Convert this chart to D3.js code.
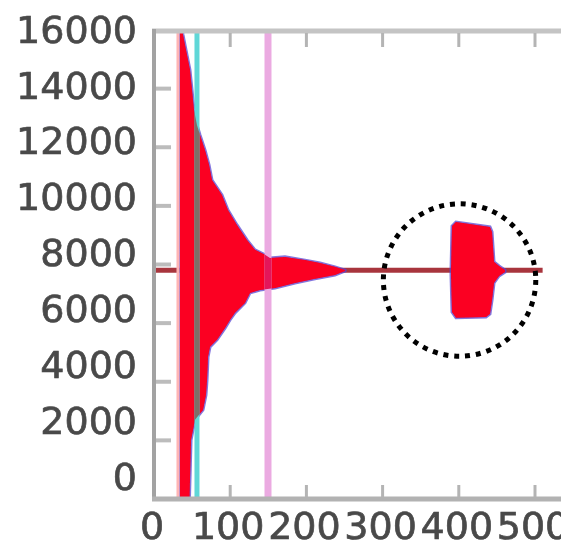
<!DOCTYPE html>
<html>
<head>
<meta charset="utf-8">
<script src="https://cdn.jsdelivr.net/npm/d3@7"></script>
<style>
  body { margin: 0; background: #fff; }
  .tick-label { font-family: "DejaVu Sans", sans-serif; font-size: 38px; fill: #4a4a4a; stroke: #4a4a4a; stroke-width: 0.7px; }
</style>
</head>
<body>
<div class="canvas"></div>
<script>
// tick values
const xTicks = [0, 100, 200, 300, 400, 500];
const yTicks = [0, 2000, 4000, 6000, 8000, 10000, 12000, 14000, 16000];

// decaying waveform envelope (upper / lower edge)
const upperX = [34.1, 38.1, 42.0, 47.2, 49.9, 52.5, 56.4, 60.4, 66.9, 72.2, 76.1, 89.2, 97.1, 108.9, 122.0, 132.5, 145.7, 152.2, 171.9, 198.2, 217.8, 237.5, 250.7];
const upperY = [16600, 15830, 15320, 14640, 13950, 13270, 12760, 12420, 11910, 11400, 10880, 10370, 9860, 9350, 8840, 8500, 8330, 8220, 8260, 8150, 8050, 7920, 7810];
const lowerX = [34.1, 45.9, 48.6, 53.8, 59.1, 64.3, 68.2, 69.6, 70.9, 73.5, 82.7, 93.2, 99.7, 106.3, 119.4, 126.0, 139.1, 158.8, 185.0, 211.3, 237.5, 250.7];
const lowerY = [-600, -600, 2010, 2700, 2870, 3040, 3550, 4060, 4850, 5190, 5430, 5830, 6110, 6350, 6690, 7030, 7130, 7200, 7370, 7510, 7640, 7780];

// burst near x=400
const burstUpperX = [389.8, 391.1, 396.3, 440.9, 443.6, 446.2, 452.8, 460.6];
const burstUpperY = [7800, 9310, 9450, 9280, 9110, 8090, 7950, 7810];
const burstLowerX = [389.8, 391.1, 396.3, 435.7, 440.9, 443.6, 446.2, 452.8, 460.6];
const burstLowerY = [7640, 6380, 6180, 6210, 6310, 6790, 7370, 7610, 7740];

// resting level of the signal, and where it ends
const baseline = 7800;
const signalStart = 0;
const signalEnd = 510;

// marker lines
const cyanMarker = 56.4;
const pinkMarker = 149.6;

// dotted circle annotation (center in data units, radius in x units)
const circleX = 401;
const circleY = 7470;
const circleR = 100;

const width = 561, height = 550;
const svg = d3.select(".canvas").append("svg")
    .attr("width", width)
    .attr("height", height);

const x = d3.scaleLinear().domain([0, 500]).range([154, 535]);
const y = d3.scaleLinear().domain([0, 16000]).range([499, 30]);
// the y labels sit on a slightly tighter spacing than the ticks
const yLabel = d3.scaleLinear().domain([0, 16000]).range([476, 29]);

const defs = svg.append("defs");
defs.append("clipPath").attr("id", "plot-clip")
  .append("rect")
    .attr("x", 154).attr("y", 30)
    .attr("width", width - 154).attr("height", 499 - 30);

// soften everything a bit, the reference is an upscaled small image
defs.append("filter").attr("id", "soft")
  .append("feGaussianBlur").attr("stdDeviation", 0.6);

const zip = (xs, ys) => xs.map((v, i) => [v, ys[i]]);
const poly = (ux, uy, lx, ly) => zip(ux, uy).concat(zip(lx, ly).reverse());
const line = d3.line().x(d => x(d[0])).y(d => y(d[1]));

const decay = poly(upperX, upperY, lowerX, lowerY);
const burst = poly(burstUpperX, burstUpperY, burstLowerX, burstLowerY);

const sigClip = defs.append("clipPath").attr("id", "sig-clip");
sigClip.append("path").attr("d", line(decay) + "Z");
sigClip.append("path").attr("d", line(burst) + "Z");

const root = svg.append("g").attr("filter", "url(#soft)");
const plot = root.append("g").attr("clip-path", "url(#plot-clip)");

// baseline of the signal
plot.append("line")
    .attr("x1", x(signalStart)).attr("x2", x(signalEnd))
    .attr("y1", y(baseline)).attr("y2", y(baseline))
    .attr("stroke", "#a8343e")
    .attr("stroke-width", 5);

// blue signal peeking out behind the red one
[decay, burst].forEach(p => {
  plot.append("path")
      .attr("d", line(p) + "Z")
      .attr("fill", "#fb0020")
      .attr("stroke", "#5a46d0")
      .attr("stroke-opacity", 0.75)
      .attr("stroke-width", 3);
});
[decay, burst].forEach(p => {
  plot.append("path")
      .attr("d", line(p) + "Z")
      .attr("fill", "#fb0020");
});

// light onset edge
plot.append("line")
    .attr("x1", x(upperX[0]) - 2).attr("x2", x(upperX[0]) - 2)
    .attr("y1", y(16000)).attr("y2", y(0))
    .attr("stroke", "#ffb4b4")
    .attr("stroke-width", 3);

// marker lines
plot.append("line")
    .attr("x1", x(cyanMarker)).attr("x2", x(cyanMarker))
    .attr("y1", y(16000)).attr("y2", y(0))
    .attr("stroke", "#5fd7d7")
    .attr("stroke-width", 5);
plot.append("line")
    .attr("x1", x(pinkMarker)).attr("x2", x(pinkMarker))
    .attr("y1", y(16000)).attr("y2", y(0))
    .attr("stroke", "#ebaae1")
    .attr("stroke-width", 7);

// where the markers cross the red fill they show darker
const inside = plot.append("g").attr("clip-path", "url(#sig-clip)");
inside.append("line")
    .attr("x1", x(cyanMarker)).attr("x2", x(cyanMarker))
    .attr("y1", y(16000)).attr("y2", y(0))
    .attr("stroke", "#7d6e68")
    .attr("stroke-width", 5);
inside.append("line")
    .attr("x1", x(pinkMarker)).attr("x2", x(pinkMarker))
    .attr("y1", y(16000)).attr("y2", y(0))
    .attr("stroke", "#e4165a")
    .attr("stroke-width", 7);

// frame and axes
root.append("line")
    .attr("x1", 152).attr("x2", width)
    .attr("y1", 31).attr("y2", 31)
    .attr("stroke", "#c4c4c4").attr("stroke-width", 5);
root.append("line")
    .attr("x1", 154).attr("x2", 154)
    .attr("y1", 29).attr("y2", 501)
    .attr("stroke", "#a2a2a2").attr("stroke-width", 4);
root.append("line")
    .attr("x1", 152).attr("x2", width)
    .attr("y1", 499).attr("y2", 499)
    .attr("stroke", "#b2b2b2").attr("stroke-width", 5);

// ticks
root.selectAll(".ytick").data(yTicks.slice(1, -1)).enter().append("line")
    .attr("class", "ytick")
    .attr("x1", 156).attr("x2", 171)
    .attr("y1", d => y(d)).attr("y2", d => y(d))
    .attr("stroke", "#bcbcbc").attr("stroke-width", 4);
root.selectAll(".xtick-b").data(xTicks.slice(1)).enter().append("line")
    .attr("class", "xtick-b")
    .attr("x1", d => x(d)).attr("x2", d => x(d))
    .attr("y1", 485).attr("y2", 497)
    .attr("stroke", "#b4b4b4").attr("stroke-width", 3);
root.selectAll(".xtick-t").data(xTicks.slice(1)).enter().append("line")
    .attr("class", "xtick-t")
    .attr("x1", d => x(d)).attr("x2", d => x(d))
    .attr("y1", 33).attr("y2", 47)
    .attr("stroke", "#b4b4b4").attr("stroke-width", 3);

// tick labels
root.selectAll(".ylab").data(yTicks).enter().append("text")
    .attr("class", "tick-label ylab")
    .attr("x", 137)
    .attr("y", d => yLabel(d))
    .attr("dy", "0.36em")
    .attr("text-anchor", "end")
    .text(d => d);
root.selectAll(".xlab").data(xTicks).enter().append("text")
    .attr("class", "tick-label xlab")
    .attr("x", d => x(d) - 2)
    .attr("y", 539)
    .attr("text-anchor", "middle")
    .text(d => d);

// dotted circle
root.append("circle")
    .attr("cx", x(circleX))
    .attr("cy", y(circleY))
    .attr("r", x(circleX + circleR) - x(circleX))
    .attr("fill", "none")
    .attr("stroke", "#000")
    .attr("stroke-width", 5)
    .attr("stroke-dasharray", "5,5.9");
</script>
</body>
</html>
